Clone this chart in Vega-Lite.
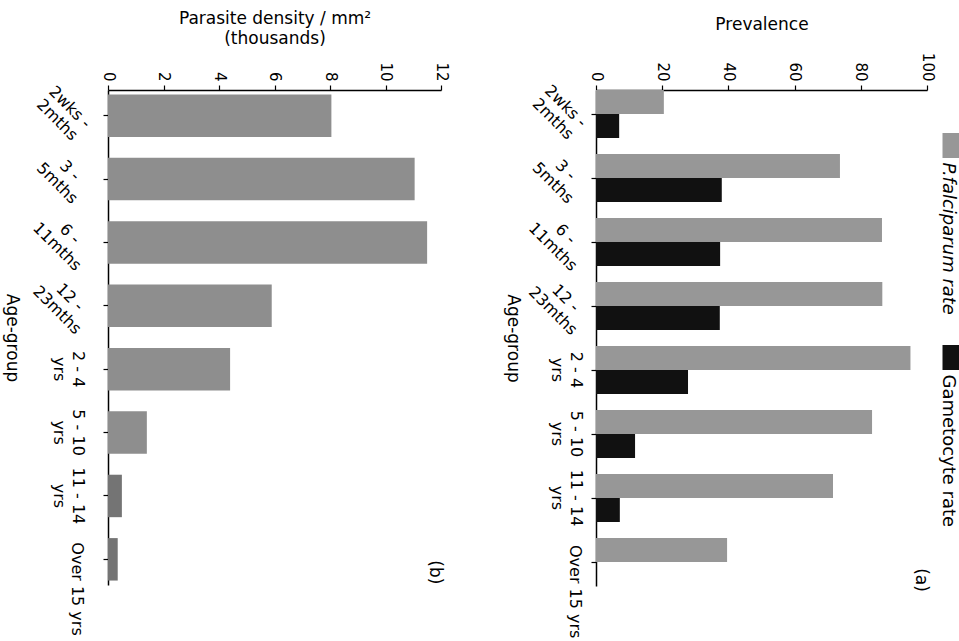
{
  "$schema": "https://vega.github.io/schema/vega-lite/v6.json",
  "background": "white",
  "padding": {"left": 3, "top": 9, "right": 0, "bottom": 0},
  "config": {
    "font": "DejaVu Sans",
    "view": {"stroke": null},
    "axis": {
      "domainColor": "black", "tickColor": "black", "labelColor": "black", "titleColor": "black",
      "grid": false, "labelFontSize": 15, "titleFontSize": 17, "titleFontWeight": "normal",
      "domainWidth": 1.5, "tickWidth": 1.2, "labelFont": "DejaVu Sans", "titleFont": "DejaVu Sans"
    }
  },
  "datasets": {
    "density": [
      {"age": "2wks -\n2mths", "density": 8.05},
      {"age": "3 -\n5mths", "density": 11.05},
      {"age": "6 -\n11mths", "density": 11.5},
      {"age": "12 -\n23mths", "density": 5.9},
      {"age": "2 - 4\nyrs", "density": 4.4},
      {"age": "5 - 10\nyrs", "density": 1.4},
      {"age": "11 - 14\nyrs", "density": 0.5},
      {"age": "Over 15 yrs", "density": 0.35}
    ],
    "prevalence": [
      {"age": "2wks -\n2mths", "series": "P.falciparum rate", "value": 20.5},
      {"age": "2wks -\n2mths", "series": "Gametocyte rate", "value": 7.0},
      {"age": "3 -\n5mths", "series": "P.falciparum rate", "value": 73.7},
      {"age": "3 -\n5mths", "series": "Gametocyte rate", "value": 38.0},
      {"age": "6 -\n11mths", "series": "P.falciparum rate", "value": 86.4},
      {"age": "6 -\n11mths", "series": "Gametocyte rate", "value": 37.5},
      {"age": "12 -\n23mths", "series": "P.falciparum rate", "value": 86.5},
      {"age": "12 -\n23mths", "series": "Gametocyte rate", "value": 37.4},
      {"age": "2 - 4\nyrs", "series": "P.falciparum rate", "value": 95.0},
      {"age": "2 - 4\nyrs", "series": "Gametocyte rate", "value": 27.8},
      {"age": "5 - 10\nyrs", "series": "P.falciparum rate", "value": 83.4},
      {"age": "5 - 10\nyrs", "series": "Gametocyte rate", "value": 11.8},
      {"age": "11 - 14\nyrs", "series": "P.falciparum rate", "value": 71.6},
      {"age": "11 - 14\nyrs", "series": "Gametocyte rate", "value": 7.2},
      {"age": "Over 15 yrs", "series": "P.falciparum rate", "value": 39.6},
      {"age": "Over 15 yrs", "series": "Gametocyte rate", "value": 0}
    ]
  },
  "spacing": 155,
  "bounds": "flush",
  "hconcat": [
    {
      "width": 333,
      "height": 495,
      "data": {"name": "density"},
      "layer": [
        {
          "mark": {"type": "bar"},
          "encoding": {
            "y": {
              "field": "age", "type": "nominal", "sort": null,
              "scale": {"paddingInner": 0.33, "paddingOuter": 0.07},
              "axis": {
                "title": "Age-group", "titleAngle": 90, "titleX": -97, "titleBaseline": "middle", "titleAlign": "center",
                "labelFontSize": 16, "labelLineHeight": 19, "tickSize": 5, "labelPadding": 18,
                "labelAngle": 90, "labelAlign": "center", "labelBaseline": "top",
                "labelExpr": "indexof(datum.label, 'mths') >= 0 || datum.label == 'Over 15 yrs' ? '' : split(datum.label, '\\n')"
              }
            },
            "x": {
              "field": "density", "type": "quantitative",
              "scale": {"domain": [0, 12], "nice": false},
              "axis": {
                "orient": "top", "values": [0,1,2,3,4,5,6,7,8,9,10,11,12],
                "labelExpr": "datum.value % 2 == 0 ? datum.label : ''",
                "labelAngle": 90, "labelAlign": "right", "labelBaseline": "middle",
                "tickSize": 5, "labelPadding": 4, "titlePadding": 14, "titleLineHeight": 20,
                "title": ["Parasite density / mm²", "(thousands)"]
              }
            },
            "color": {
              "condition": {"test": "datum.age == '11 - 14\\nyrs' || datum.age == 'Over 15 yrs'", "value": "#747474"},
              "value": "#8e8e8e"
            }
          }
        },
        {
          "transform": [{"filter": "indexof(datum.age, 'mths') >= 0"}],
          "mark": {"type": "text", "angle": 45, "fontSize": 16, "align": "center", "baseline": "middle", "lineBreak": "\n", "lineHeight": 18, "dx": -33, "dy": 21},
          "encoding": {
            "x": {"datum": 0, "type": "quantitative"},
            "y": {"field": "age", "type": "nominal", "sort": null},
            "text": {"field": "age"}
          }
        },
        {
          "transform": [{"filter": "datum.age == 'Over 15 yrs'"}],
          "mark": {"type": "text", "angle": 90, "fontSize": 16, "align": "left", "baseline": "top", "dx": -17, "dy": 23},
          "encoding": {
            "x": {"datum": 0, "type": "quantitative"},
            "y": {"field": "age", "type": "nominal", "sort": null},
            "text": {"field": "age"}
          }
        },
        {
          "data": {"values": [{"label": "(b)"}]},
          "mark": {"type": "text", "angle": 90, "fontSize": 17, "align": "center", "baseline": "middle", "dx": 13},
          "encoding": {
            "x": {"datum": 11.8, "type": "quantitative"},
            "y": {"datum": "Over 15 yrs", "type": "nominal"},
            "text": {"field": "label"}
          }
        }
      ]
    },
    {
      "width": 331,
      "height": 496,
      "data": {"name": "prevalence"},
      "layer": [
        {
          "mark": {"type": "bar"},
          "encoding": {
            "y": {
              "field": "age", "type": "nominal", "sort": null,
              "scale": {"paddingInner": 0.25, "paddingOuter": 0},
              "axis": {
                "title": "Age-group", "titleAngle": 90, "titleX": -84, "titleBaseline": "middle", "titleAlign": "center",
                "labelFontSize": 16, "labelLineHeight": 19, "tickSize": 5, "labelPadding": 8,
                "labelAngle": 90, "labelAlign": "center", "labelBaseline": "top",
                "labelExpr": "indexof(datum.label, 'mths') >= 0 || datum.label == 'Over 15 yrs' ? '' : split(datum.label, '\\n')"
              }
            },
            "yOffset": {
              "field": "series", "type": "nominal",
              "sort": ["P.falciparum rate", "Gametocyte rate"],
              "scale": {"paddingInner": 0, "paddingOuter": 0}
            },
            "x": {
              "field": "value", "type": "quantitative",
              "scale": {"domain": [0, 100], "nice": false},
              "axis": {
                "orient": "top", "values": [0,10,20,30,40,50,60,70,80,90,100],
                "labelExpr": "datum.value % 20 == 0 ? datum.label : ''",
                "labelAngle": 90, "labelAlign": "right", "labelBaseline": "middle",
                "tickSize": 5, "labelPadding": 4, "titlePadding": 19,
                "title": "Prevalence"
              }
            },
            "color": {
              "field": "series", "type": "nominal",
              "scale": {"domain": ["P.falciparum rate", "Gametocyte rate"], "range": ["#979797", "#111111"]},
              "legend": {
                "orient": "none", "legendX": 831, "legendY": 43, "direction": "vertical",
                "title": null, "symbolType": "M-0.72,-1L0.72,-1L0.72,1L-0.72,1Z", "symbolSize": 625, "symbolStrokeWidth": 0,
                "symbolOpacity": 1, "labelFontSize": 18, "labelFont": "DejaVu Sans", "labelColor": "black",
                "rowPadding": 30, "labelOffset": 0,
                "encode": {"labels": {"update": {
                  "angle": {"value": 90},
                  "align": {"value": "left"},
                  "baseline": {"value": "middle"},
                  "dx": {"value": 17},
                  "dy": {"value": 16},
                  "fontStyle": {"signal": "datum.label == 'P.falciparum rate' ? 'italic' : 'normal'"}
                }}}
              }
            }
          }
        },
        {
          "transform": [{"filter": "indexof(datum.age, 'mths') >= 0 && datum.series == 'P.falciparum rate'"}],
          "mark": {"type": "text", "angle": 45, "fontSize": 16, "align": "center", "baseline": "middle", "lineBreak": "\n", "lineHeight": 18, "dx": -27, "dy": 16},
          "encoding": {
            "x": {"datum": 0, "type": "quantitative"},
            "y": {"field": "age", "type": "nominal", "sort": null},
            "text": {"field": "age"}
          }
        },
        {
          "transform": [{"filter": "datum.age == 'Over 15 yrs' && datum.series == 'P.falciparum rate'"}],
          "mark": {"type": "text", "angle": 90, "fontSize": 16, "align": "left", "baseline": "top", "dx": -17, "dy": 13},
          "encoding": {
            "x": {"datum": 0, "type": "quantitative"},
            "y": {"field": "age", "type": "nominal", "sort": null},
            "text": {"field": "age"}
          }
        },
        {
          "data": {"values": [{"label": "(a)"}]},
          "mark": {"type": "text", "angle": 90, "fontSize": 17, "align": "center", "baseline": "middle", "dx": 18},
          "encoding": {
            "x": {"datum": 98.2, "type": "quantitative"},
            "y": {"datum": "Over 15 yrs", "type": "nominal"},
            "text": {"field": "label"}
          }
        }
      ]
    }
  ]
}
